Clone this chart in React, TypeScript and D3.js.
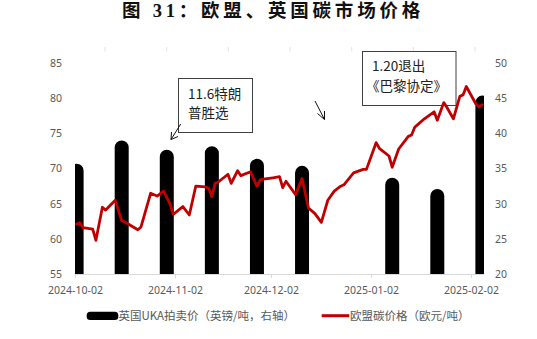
import React from "react";
import * as d3 from "d3";

// ---------- data ----------
const ukaDates = ["2024-10-02", "2024-10-16", "2024-10-30", "2024-11-13", "2024-11-27", "2024-12-11", "2025-01-08", "2025-01-22", "2025-02-05"];
const ukaValues = [35.7, 39.0, 37.7, 38.2, 36.4, 35.4, 33.7, 32.1, 45.4];

const euaDates = [
  "2024-10-02", "2024-10-03", "2024-10-04", "2024-10-07", "2024-10-08", "2024-10-10", "2024-10-11", "2024-10-14",
  "2024-10-16", "2024-10-17", "2024-10-21", "2024-10-22", "2024-10-25", "2024-10-27", "2024-10-29", "2024-10-31",
  "2024-11-01", "2024-11-04", "2024-11-06", "2024-11-08", "2024-11-11", "2024-11-12", "2024-11-13", "2024-11-14",
  "2024-11-15", "2024-11-18", "2024-11-19", "2024-11-21", "2024-11-22", "2024-11-25", "2024-11-27", "2024-11-28",
  "2024-11-29", "2024-12-02", "2024-12-04", "2024-12-05", "2024-12-06", "2024-12-09", "2024-12-11", "2024-12-13",
  "2024-12-15", "2024-12-17", "2024-12-19", "2024-12-21", "2024-12-23", "2024-12-24", "2024-12-27", "2024-12-30",
  "2024-12-31", "2025-01-03", "2025-01-04", "2025-01-07", "2025-01-08", "2025-01-10", "2025-01-13", "2025-01-14",
  "2025-01-15", "2025-01-16", "2025-01-18", "2025-01-21", "2025-01-22", "2025-01-24", "2025-01-25", "2025-01-27",
  "2025-01-29", "2025-01-30", "2025-01-31", "2025-02-03", "2025-02-04", "2025-02-05",
];
const euaValues = [
  62.1, 62.3, 61.6, 61.4, 59.8, 64.5, 64.1, 65.5,
  62.6, 62.4, 61.3, 61.7, 66.5, 66.1, 66.8, 65.0,
  63.5, 64.6, 63.4, 67.5, 67.4, 67.2, 66.0, 67.9,
  68.1, 69.2, 67.9, 69.7, 69.0, 69.55, 67.5, 68.4,
  68.5, 68.7, 68.85, 67.3, 68.2, 66.3, 68.6, 64.4,
  63.6, 62.35, 65.5, 66.8, 67.5, 67.7, 69.4, 69.9,
  69.9, 73.7, 72.9, 71.8, 70.2, 72.8, 74.6, 74.8,
  75.9, 76.3, 77.1, 78.1, 76.9, 79.4, 78.7, 77.1,
  80.3, 80.5, 81.7, 79.2, 78.8, 79.1,
];

const xTickDates = ["2024-10-02", "2024-11-02", "2024-12-02", "2025-01-02", "2025-02-02"];
const leftTicks = [55, 60, 65, 70, 75, 80, 85];
const rightTicks = [20, 25, 30, 35, 40, 45, 50];

const titleText = "图 31：欧盟、英国碳市场价格";
const legendBar = "英国UKA拍卖价（英镑/吨，右轴）";
const legendLine = "欧盟碳价格（欧元/吨）";
const note1 = ["11.6特朗", "普胜选"];
const note2 = ["1.20退出", "《巴黎协定》"];

// ---------- layout ----------
const W = 537, H = 339;
const L = 75, R = 484, T = 63.3, B = 274;
const RED = "#C00000";
const GRAY = "#595959";
const FONT = '"Noto Sans", "Noto Sans CJK SC", sans-serif';
const CJK = '"Noto Sans CJK SC", sans-serif';

const parse = d3.utcParse("%Y-%m-%d");
const DAY = 86400000;

export default function App() {
  const x = d3.scaleUtc().domain([parse("2024-10-02")!, parse("2025-02-06")!]).range([L, R]);
  const halfDay = (x(new Date(parse("2024-10-02")!.getTime() + DAY)) - x(parse("2024-10-02")!)) / 2;
  const xc = (s: string) => x(parse(s)!) + halfDay;
  const yL = d3.scaleLinear().domain([55, 85]).range([B, T]);
  const yR = d3.scaleLinear().domain([20, 50]).range([B, T]);

  const linePts = euaDates.map((d, i) => [xc(d), yL(euaValues[i])] as [number, number]);
  const linePath = d3.line().curve(d3.curveLinear)(linePts) || "";

  const bw = 14;
  const barPath = (cx: number, top: number) => {
    const r = bw / 2;
    return `M${cx - r},${B} L${cx - r},${top + r} A${r},${r} 0 0 1 ${cx + r},${top + r} L${cx + r},${B} Z`;
  };

  const faintMarks = [105, 166.7, 228.3, 290, 351.7, 413.3, 475];

  return (
    <svg width={W} height={H} style={{ position: "absolute", left: 0, top: 0, background: "#fff" }}>
      <defs>
        <clipPath id="plot">
          <rect x={L} y={0} width={R - L} height={B} />
        </clipPath>
      </defs>
      <rect x={0} y={0} width={W} height={H} fill="#fff" />

      {/* title */}
      <text x={273} y={16.5} textAnchor="middle" fontFamily={'"Liberation Serif", "Noto Sans CJK SC", serif'}
        fontWeight="bold" fontSize={18.5} letterSpacing={3.8} fill="#111">{titleText}</text>

      {faintMarks.map((fx, i) => (
        <line key={i} x1={fx} x2={fx} y1={47} y2={51.5} stroke="#e3e3e3" strokeWidth={1} />
      ))}

      {/* bars */}
      <g clipPath="url(#plot)">
        {ukaDates.map((d, i) => (
          <path key={d} d={barPath(xc(d), yR(ukaValues[i]))} fill="#000" />
        ))}
      </g>

      {/* x axis */}
      <line x1={L} x2={R} y1={B + 0.5} y2={B + 0.5} stroke="#D9D9D9" strokeWidth={1} />
      {xTickDates.map((d) => {
        const tx = Math.round(x(parse(d)!)) + 0.5;
        return (
          <g key={d}>
            <line x1={tx} x2={tx} y1={B} y2={B + 4} stroke="#D9D9D9" />
            <text x={tx} y={294} textAnchor="middle" fontFamily={FONT} fontSize={10.5} fill={GRAY}>{d}</text>
          </g>
        );
      })}

      {/* y axes labels */}
      {leftTicks.map((v) => (
        <text key={v} x={62} y={yL(v) + 3.8} textAnchor="end" fontFamily={FONT} fontSize={10.5} fill={GRAY}>{v}</text>
      ))}
      {rightTicks.map((v) => (
        <text key={v} x={495} y={yR(v) + 3.8} textAnchor="start" fontFamily={FONT} fontSize={10.5} fill={GRAY}>{v}</text>
      ))}

      {/* annotation boxes */}
      <rect x={178.5} y={78.5} width={74} height={54} fill="#fff" stroke="#404040" strokeWidth={1} />
      <text x={188} y={98.5} fontFamily={CJK} fontSize={13.5} fill="#222">{note1[0]}</text>
      <text x={188} y={118} fontFamily={CJK} fontSize={13.5} fill="#222">{note1[1]}</text>

      <rect x={362.5} y={51.5} width={93.5} height={54} fill="#fff" stroke="#404040" strokeWidth={1} />
      <text x={372} y={71} fontFamily={CJK} fontSize={13.5} fill="#222">{note2[0]}</text>
      <text x={366} y={91} fontFamily={CJK} fontSize={13.5} fill="#222">{note2[1]}</text>

      {/* line */}
      <g clipPath="url(#plot)">
        <path d={linePath} fill="none" stroke={RED} strokeWidth={2.8} strokeLinejoin="round" strokeLinecap="round" />
      </g>

      {/* arrows */}
      <g stroke="#111" strokeWidth={1} fill="none">
        <line x1={180.7} y1={124} x2={171} y2={139.5} />
        <polyline points="171.5,132 171,139.5 178,136.5" />
        <line x1={315} y1={101} x2={324.5} y2={119.5} />
        <polyline points="317.5,113.5 324.5,119.5 324.5,111" />
      </g>

      {/* legend */}
      <rect x={86.7} y={311.7} width={31.6} height={8.3} rx={3.5} fill="#000" />
      <text x={118.5} y={319.8} fontFamily={CJK} fontSize={11.5} fill={GRAY}>{legendBar}</text>
      <line x1={321.7} x2={349.3} y1={315.7} y2={315.7} stroke={RED} strokeWidth={3} />
      <text x={350} y={319.8} fontFamily={CJK} fontSize={11.5} fill={GRAY}>{legendLine}</text>
    </svg>
  );
}
